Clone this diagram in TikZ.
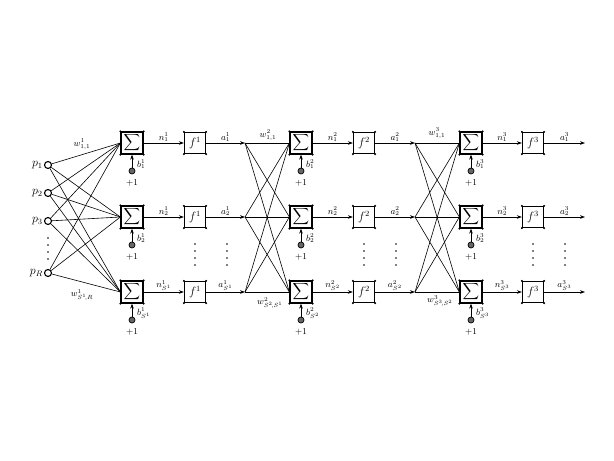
\documentclass[tikz,border=0pt]{standalone}
\usetikzlibrary{arrows.meta}
\begin{document}
\begin{tikzpicture}[x=1pt,y=-1pt,
 sumbox/.style={draw,line width=1.3pt,minimum size=22pt,inner sep=0pt},
 fbox/.style={draw,line width=1.3pt,minimum size=21pt,inner sep=0pt,font=\large},
 inp/.style={circle,draw,line width=1.1pt,minimum size=7pt,inner sep=0pt},
 bias/.style={circle,draw,fill=black!60,minimum size=6pt,inner sep=0pt,line width=0.7pt},
 arr/.style={-{Stealth[length=5pt,width=3.6pt]},line width=0.6pt},
 con/.style={line width=0.6pt},
 lab/.style={font=\small,inner sep=1pt},
 plab/.style={font=\large,inner sep=1pt}]
\useasboundingbox (0,0) rectangle (614,461);
% inputs
\node[inp,label={[plab]left:$p_1$}] (p1) at (48,165) {};
\node[inp,label={[plab]left:$p_2$}] (p2) at (48,193) {};
\node[inp,label={[plab]left:$p_3$}] (p3) at (48,221) {};
\node[inp,label={[plab]left:$p_R$}] (pR) at (48,273) {};
\foreach \yy in {238,245,252,259} \fill (48,\yy) circle (0.8pt);
% layers
\foreach \l/\S/\F/\A in {1/132/195/245, 2/301/364/415, 3/471/533/585}{
  \foreach \r/\y/\sub in {1/143/1, 2/217/2, 3/292/{S^{\l}}}{
    \node[sumbox] (s-\l-\r) at (\S,\y) {\scalebox{1.15}{$\displaystyle\sum$}};
    \node[fbox] (f-\l-\r) at (\F,\y) {$f^{\l}$};
    \coordinate (a-\l-\r) at (\A,\y);
    \draw[arr] (s-\l-\r) -- (f-\l-\r) node[midway,above,lab] {$n^{\l}_{\sub}$};
    \draw[arr] (f-\l-\r) -- (a-\l-\r) node[midway,above,lab] {$a^{\l}_{\sub}$};
    \node[bias] (b-\l-\r) at (\S,\y+28) {};
    \draw[arr] (b-\l-\r) -- (s-\l-\r);
    \node[lab,anchor=west] (bl-\l-\r) at (\S+4,\y+21) {$b^{\l}_{\sub}$};
    \node[lab] (one-\l-\r) at (\S,\y+40) {$+1$};
    \foreach \nm in {s-\l-\r,f-\l-\r}{
      \foreach \c in {north west,north east,south west,south east}
        \fill (\nm.\c) circle (1.1pt);
    }
  }
  \foreach \xx in {\F,\F+32}{
    \foreach \yy in {244,251,258,265} \fill (\xx,\yy) circle (0.8pt);
  }
}
% layer 1 connections
\foreach \i in {p1,p2,p3,pR}
  \foreach \r in {1,2,3}
    \draw[con] (\i) -- (s-1-\r.west);
% layer 2,3 connections
\foreach \l/\m in {2/1,3/2}
  \foreach \j in {1,2,3}
    \foreach \r in {1,2,3}
      \draw[con] (a-\m-\j) -- (s-\l-\r.west);
% weight labels
\node[lab] (w1a) at (82,144) {$w^{1}_{1,1}$};
\node[lab] (w1b) at (82,295) {$w^{1}_{S^1\!,R}$};
\node[lab] (w2a) at (268,135) {$w^{2}_{1,1}$};
\node[lab] (w2b) at (270,303) {$w^{2}_{S^2\!,S^1}$};
\node[lab] (w3a) at (437,133) {$w^{3}_{1,1}$};
\node[lab] (w3b) at (440,301) {$w^{3}_{S^3\!,S^2}$};
\end{tikzpicture}
\end{document}
